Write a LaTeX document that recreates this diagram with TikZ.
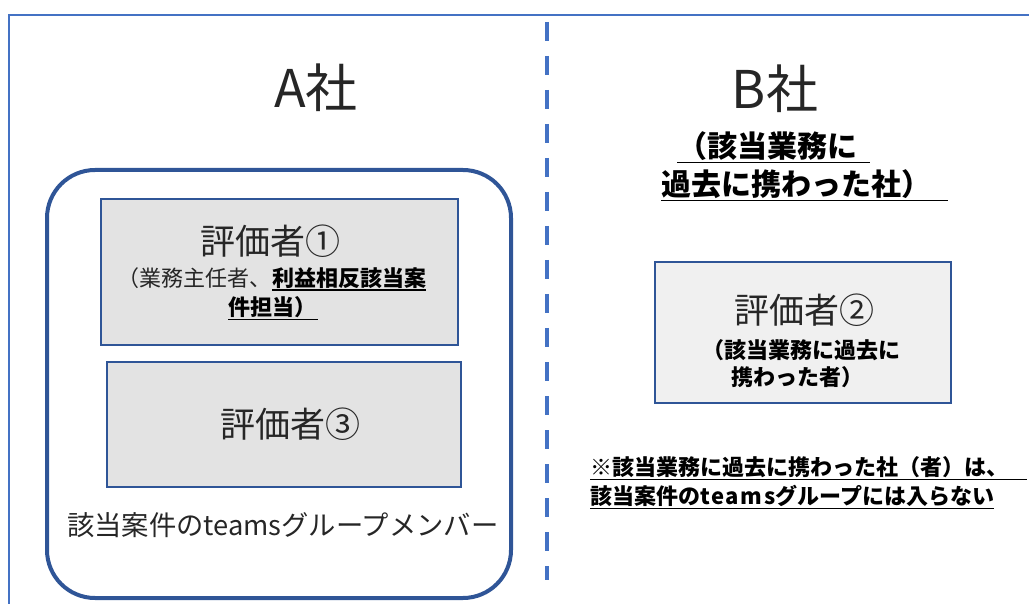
\documentclass[tikz,border=0pt]{standalone}
\usepackage{fontspec}
\setmainfont{Noto Sans CJK JP}
\definecolor{dkblue}{HTML}{2F5597}
\definecolor{mblue}{HTML}{4472C4}
\definecolor{gfill}{HTML}{E3E3E3}
\definecolor{gfilll}{HTML}{F0F0F0}
\definecolor{txt}{HTML}{262626}
\newcommand{\fs}[1]{\fontsize{#1}{#1}\selectfont}
\begin{document}
\begin{tikzpicture}[x=1pt,y=-1pt,
  frame/.style={draw=mblue,line width=1.4pt},
  grp/.style={draw=dkblue,line width=4pt,rounded corners=48pt,minimum width=464pt,minimum height=428pt,inner sep=0pt},
  evalbox/.style={draw=dkblue,line width=2.6pt,fill=gfill,inner sep=0pt},
  divider/.style={draw=mblue,line width=4pt,dash pattern=on 19pt off 15pt},
  lbl/.style={inner sep=0pt,text=txt},
  blbl/.style={inner sep=0pt,text=black,font=\bfseries},
  uline/.style={draw=black,line width=1.4pt}]
\useasboundingbox (0,0) rectangle (1029,604);
% frame
\coordinate (fbl) at (9,604);
\coordinate (ftl) at (9,15);
\coordinate (ftr) at (1029,15);
\draw[frame] (fbl) -- (ftl) -- (ftr);
% divider
\coordinate (dtop) at (547,22);
\coordinate (dbot) at (547,580);
\draw[divider] (dtop) -- (dbot);
% titles
\node[lbl,font=\fs{52}] (ta) at (316,88) {A社};
\node[lbl,font=\fs{52}] (tb) at (775,89) {B社};
% B sub title
\node[blbl,font=\fs{30}\bfseries,anchor=west] (bs1) at (677,146) {（該当業務に};
\node[blbl,font=\fs{30}\bfseries,anchor=west] (bs2) at (661,184) {過去に携わった社）};
\coordinate (xb1) at (870,0);
\coordinate (xb2) at (948,0);
\draw[uline] ([yshift=-2pt]bs1.south west) -- ([yshift=-2pt]bs1.south west -| xb1);
\draw[uline] ([yshift=-2pt]bs2.south west) -- ([yshift=-2pt]bs2.south west -| xb2);
% group A
\node[grp] (grpA) at (279,384) {};
\node[evalbox,minimum width=357pt,minimum height=146pt] (e1) at (279.5,272) {};
\node[evalbox,minimum width=354pt,minimum height=125pt] (e3) at (284,424.5) {};
\node[lbl,font=\fs{35}] (e1t) at (270,241) {評価者①};
\node[lbl,font=\fs{22},anchor=east] (e1a) at (272,278) {（業務主任者、};
\node[blbl,font=\fs{22}\bfseries,anchor=west] (e1b) at (272,278) {利益相反該当案};
\node[blbl,font=\fs{22}\bfseries,anchor=west] (e1c) at (228,307) {件担当）};
\coordinate (xe1) at (318,0);
\draw[uline] ([yshift=-1.5pt]e1b.south west) -- ([yshift=-1.5pt]e1b.south east);
\draw[uline] ([yshift=-1.5pt]e1c.south west) -- ([yshift=-1.5pt]e1c.south west -| xe1);
\node[lbl,font=\fs{35}] (e3t) at (290,424) {評価者③};
\node[lbl,font=\fs{27.3},anchor=west] (mem) at (67,525) {該当案件のteamsグループメンバー};
% evaluator 2
\node[evalbox,fill=gfilll,minimum width=296pt,minimum height=141pt] (e2) at (803,332.5) {};
\node[lbl,font=\fs{35}] (e2t) at (804,310) {評価者②};
\node[blbl,font=\fs{22}\bfseries] (e2a) at (801,350) {（該当業務に過去に};
\node[blbl,font=\fs{22}\bfseries] (e2b) at (797,377) {携わった者）};
% note
\node[blbl,font=\fs{22}\bfseries,anchor=west] (n1) at (590,467) {※該当業務に過去に携わった社（者）は、};
\node[blbl,font=\fs{22}\bfseries,anchor=west] (n2) at (590,496) {該当案件の{\addfontfeature{LetterSpace=8}teams}グループには入らない};
\coordinate (xn1) at (1027,0);
\draw[uline] ([yshift=-1.5pt]n1.south west) -- ([yshift=-1.5pt]n1.south west -| xn1);
\draw[uline] ([yshift=-1.5pt]n2.south west) -- ([yshift=-1.5pt]n2.south east);
\end{tikzpicture}
\end{document}
